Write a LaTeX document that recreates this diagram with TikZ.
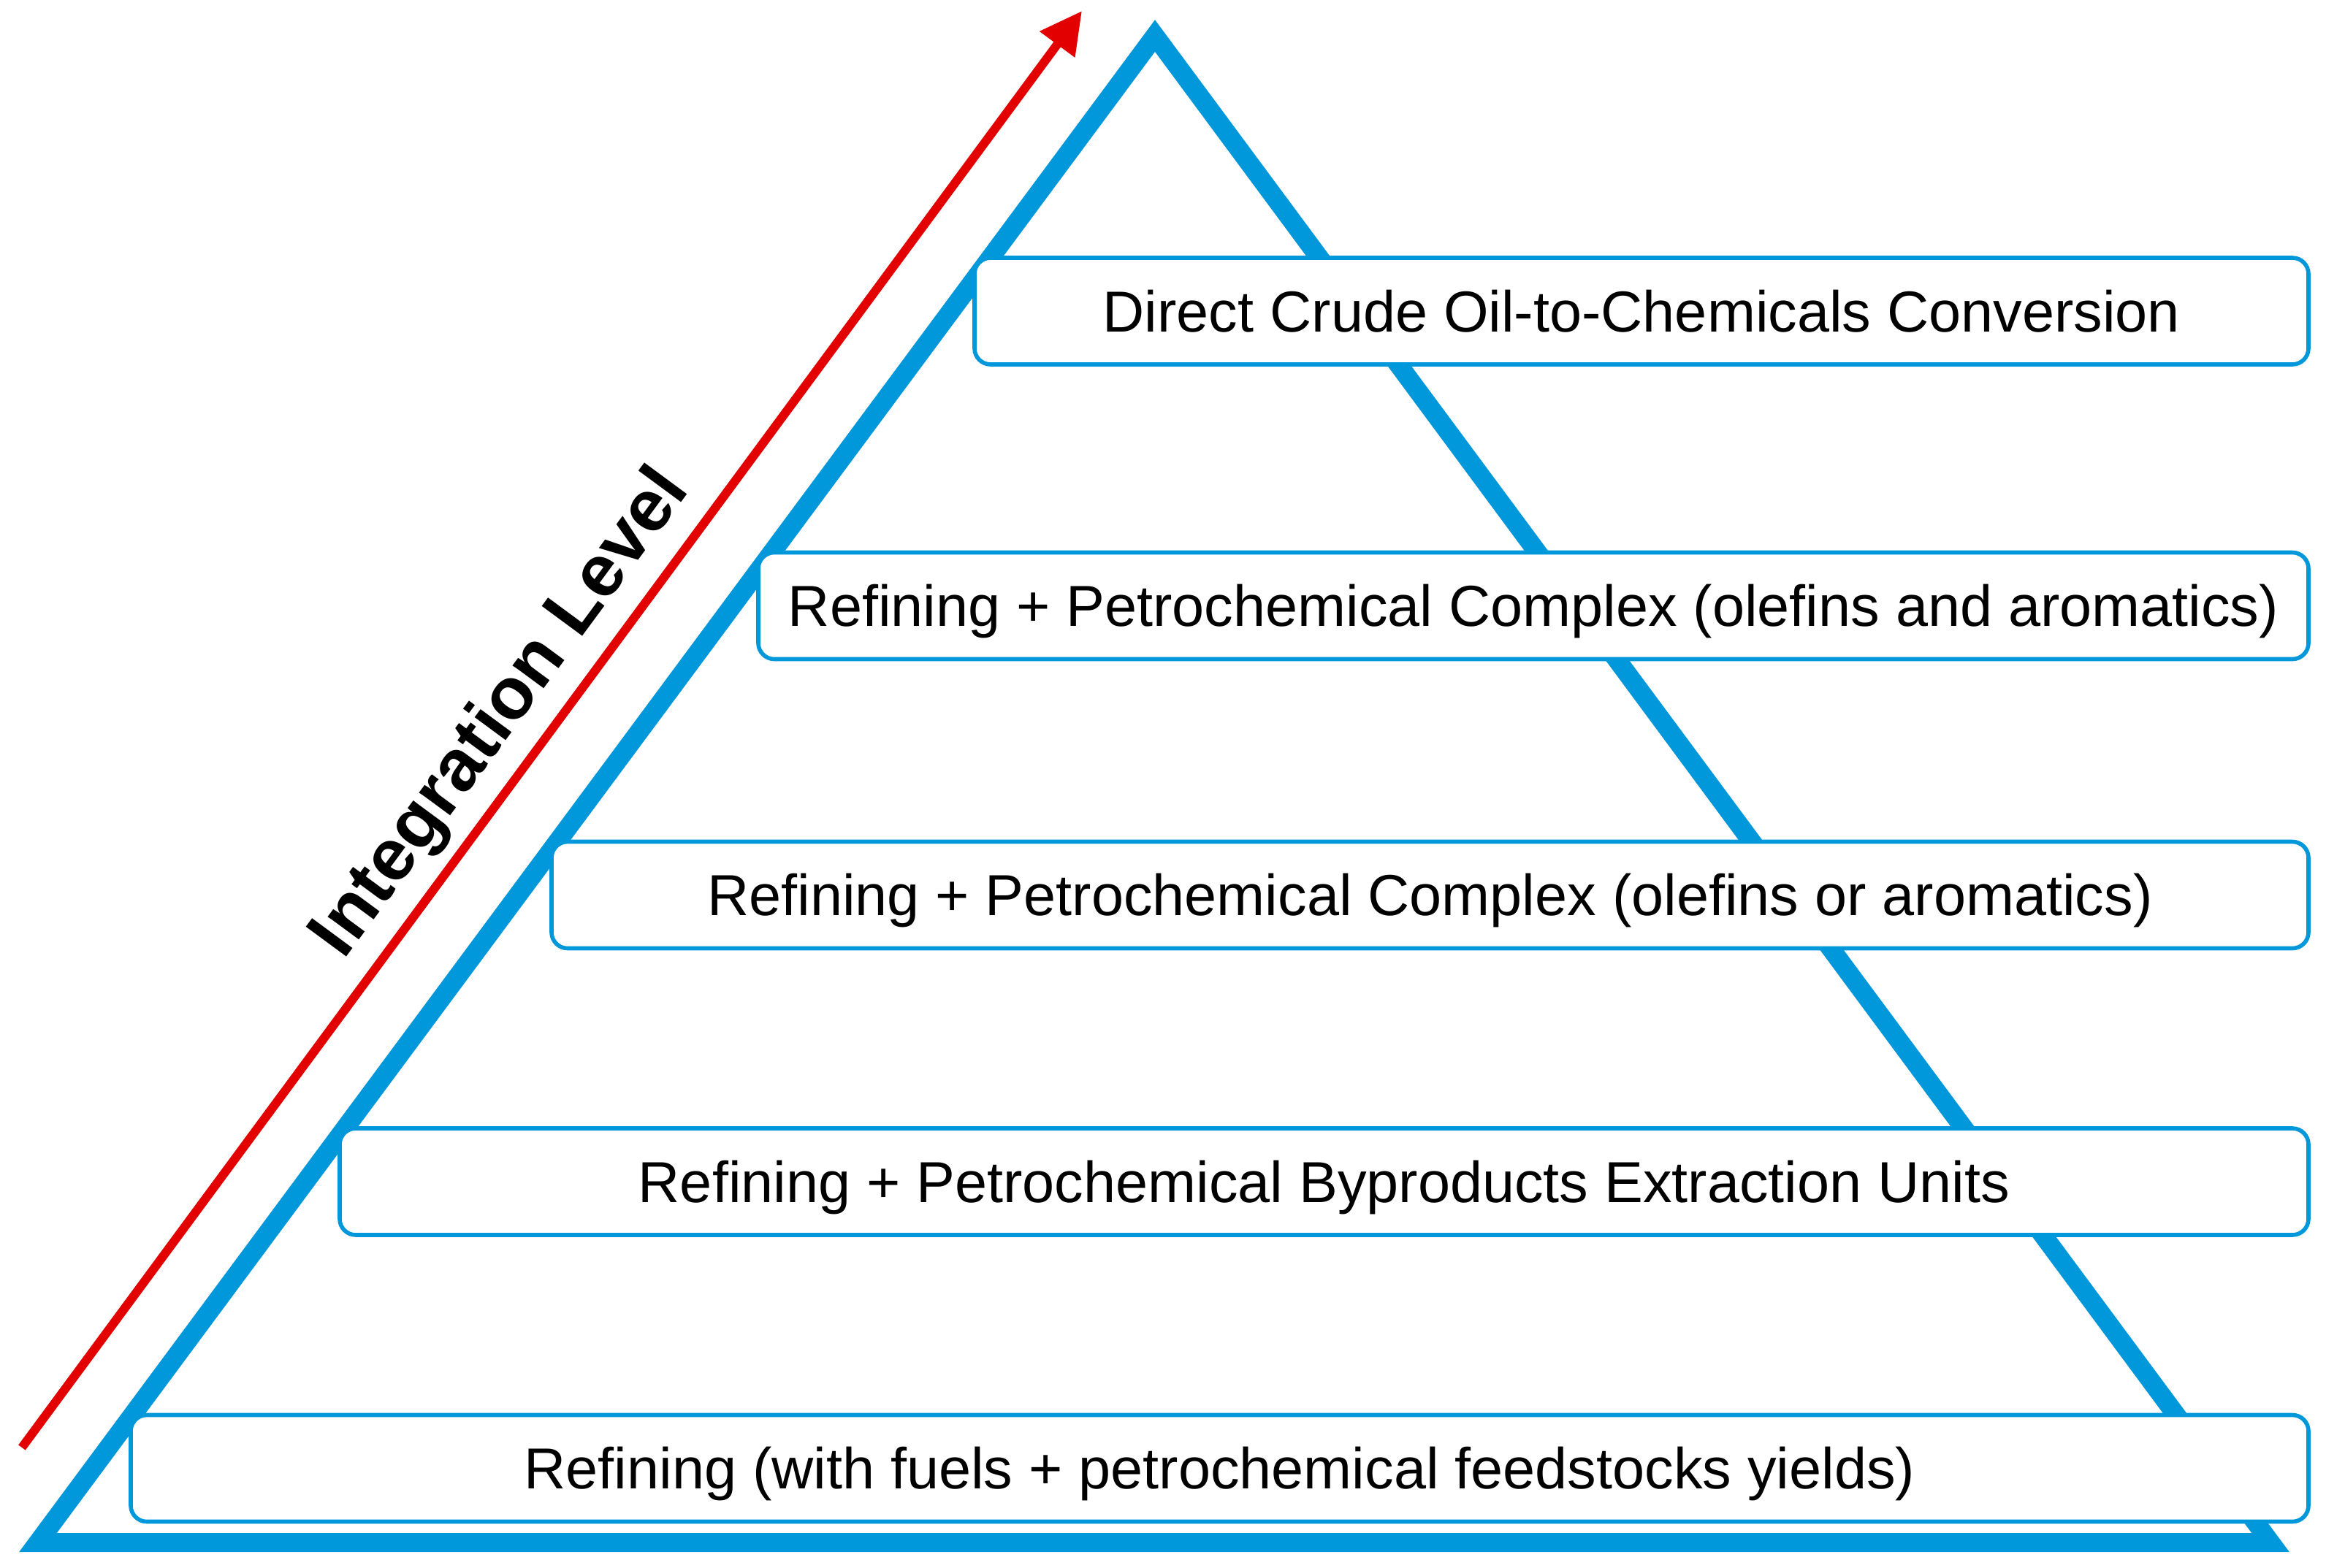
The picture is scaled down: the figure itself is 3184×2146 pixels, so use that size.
\documentclass[tikz,border=0pt]{standalone}
\usepackage{fontspec}
\setmainfont{Liberation Sans}
\usetikzlibrary{arrows.meta}
\definecolor{pyrblue}{RGB}{0,152,218}
\definecolor{arrred}{RGB}{226,0,0}
\begin{document}
\begin{tikzpicture}[x=0.25pt,y=-0.25pt,
  level/.style={draw=pyrblue, line width=1.4pt, fill=white, rounded corners=5.5pt,
    minimum height=36.5pt, inner sep=0pt, text height=14.2pt, text depth=0pt,
    font=\fontsize{19.8pt}{23pt}\selectfont, text=black},
  pyramid/.style={draw=pyrblue, line width=6.5pt, miter limit=10},
  levelarrow/.style={draw=arrred, line width=3pt, -{Triangle[length=14.25pt,width=14.25pt]}},
  arrowlabel/.style={rotate=53.6, anchor=base, inner sep=0pt,
    font=\bfseries\fontsize{25pt}{29pt}\selectfont}]
\fill[white] (0,0) rectangle (3184,2146);
\useasboundingbox (0,0) rectangle (3184,2146);
% pyramid
\coordinate (apex) at (1581,49);
\coordinate (bl) at (52,2112);
\coordinate (br) at (3108,2112);
\draw[pyramid] (apex) -- (bl) -- (br) -- cycle;
% levels
\node[level, minimum width=456.5pt] (l1) at (2247,426) {Direct Crude Oil-to-Chemicals Conversion};
\node[level, minimum width=530.5pt] (l2) at (2099,829.5) {Refining + Petrochemical Complex (olefins and aromatics)};
\node[level, minimum width=601.25pt] (l3) at (1957.5,1225.5) {Refining + Petrochemical Complex (olefins or aromatics)};
\node[level, minimum width=673.75pt] (l4) at (1812.5,1618) {Refining + Petrochemical Byproducts Extraction Units};
\node[level, minimum width=745.25pt] (l5) at (1669.5,2010.5) {Refining (with fuels + petrochemical feedstocks yields)};
% arrow
\coordinate (atail) at (30,1982);
\coordinate (atip) at (1481,15);
\draw[levelarrow] (atail) -- (atip);
\node[arrowlabel] (lbl) at (708,993) {Integration Level};
\end{tikzpicture}
\end{document}
